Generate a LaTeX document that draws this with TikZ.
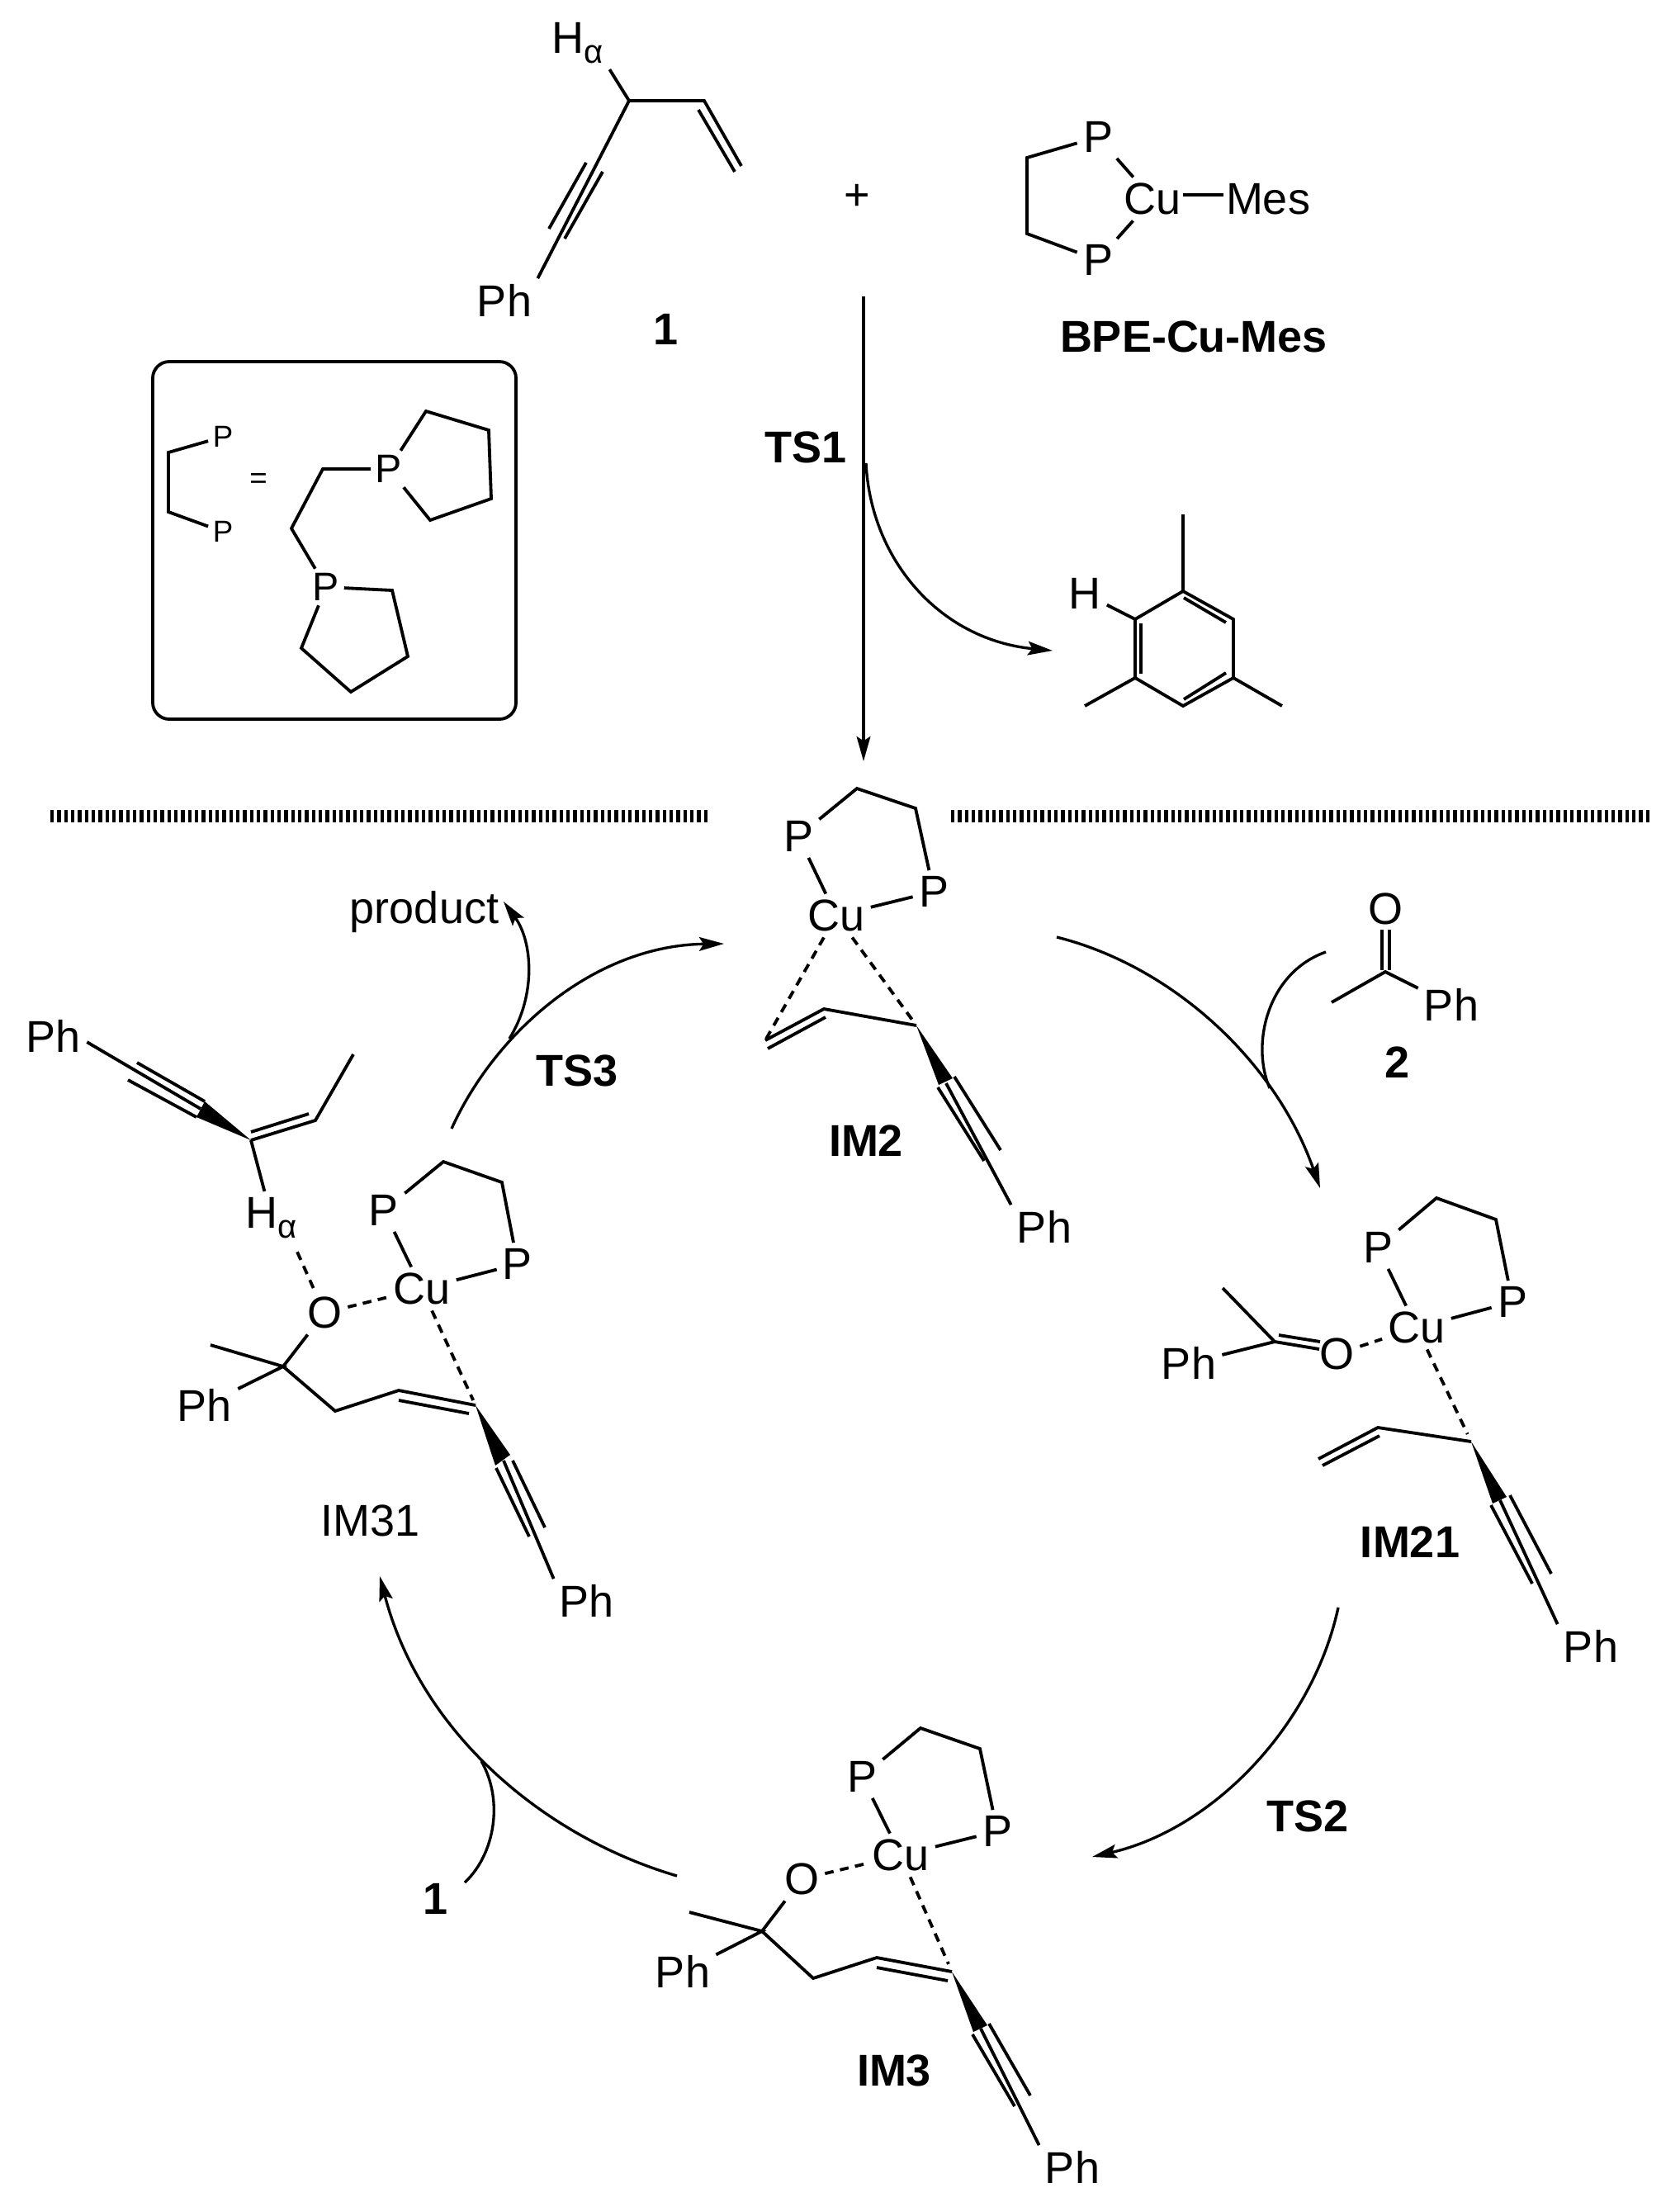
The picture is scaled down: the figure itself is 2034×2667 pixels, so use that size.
\documentclass[tikz,border=0pt]{standalone}
\usepackage{fontspec}
\setmainfont{Liberation Sans}
\usetikzlibrary{arrows.meta}
\newcommand{\halpha}{H\raisebox{-3.6pt}{\fontsize{12}{14}\selectfont α}}

\begin{document}
\begin{tikzpicture}[x=0.3pt, y=-0.3pt,
atom/.style={inner sep=2pt, font=\fontsize{16.2}{18}\selectfont},
title/.style={inner sep=1pt, font=\fontsize{16.2}{18}\selectfont\bfseries},
smallatom/.style={inner sep=1.5pt, font=\fontsize{11}{13}\selectfont},
midatom/.style={inner sep=1.5pt, font=\fontsize{14.5}{17}\selectfont},
bond/.style={line width=1.15pt},
dashbond/.style={line width=1.15pt, dash pattern=on 3.2pt off 2.4pt},
curved/.style={line width=1pt},
reaction/.style={line width=1pt, -{Stealth[length=9pt, width=5pt, inset=1.6pt]}},
divider/.style={line width=4.5pt, dash pattern=on 1.25pt off 1.25pt},
]
\useasboundingbox (0,0) rectangle (2034,2667);
%Nodes
\node[atom] (sm_h) at (700,52) {\halpha};
\node[atom] (sm_ph) at (611,364) {Ph};
\node[title] (sm_num) at (807,399) {1};
\node[atom] (plus) at (1038,239) {+};
\node[atom] (cat_p1) at (1330,166) {P};
\node[atom] (cat_p2) at (1330,315) {P};
\node[atom] (cat_cu) at (1396,241) {Cu};
\node[atom] (cat_mes) at (1536,241) {Mes};
\node[title] (cat_name) at (1446,408) {BPE-Cu-Mes};
\node[smallatom] (key_p1) at (270,529) {P};
\node[smallatom] (key_p2) at (270,644) {P};
\node[smallatom] (key_eq) at (313,583) {=};
\node[midatom] (key_p3) at (471,568) {P};
\node[midatom] (key_p4) at (395,711) {P};
\node[title] (ts1) at (976,542) {TS1};
\node[atom] (mes_h) at (1314,719) {H};
\node[atom] (im2_p1) at (967,1013) {P};
\node[atom] (im2_p2) at (1131,1080) {P};
\node[atom] (im2_cu) at (1013,1109) {Cu};
\node[atom] (im2_ph) at (1265,1486) {Ph};
\node[title] (im2_name) at (1049,1382) {IM2};
\node[atom] (ket_o) at (1678,1101) {O};
\node[atom] (ket_ph) at (1758,1217) {Ph};
\node[title] (ket_num) at (1692,1287) {2};
\node[atom] (im21_p1) at (1669,1511) {P};
\node[atom] (im21_p2) at (1832,1577) {P};
\node[atom] (im21_cu) at (1716,1608) {Cu};
\node[atom] (im21_o) at (1619,1640) {O};
\node[atom] (im21_ph1) at (1440,1651) {Ph};
\node[atom] (im21_ph2) at (1927,1994) {Ph};
\node[title] (im21_name) at (1708,1868) {IM21};
\node[title] (ts2) at (1584,2200) {TS2};
\node[atom] (im3_p1) at (1044,2152) {P};
\node[atom] (im3_p2) at (1208,2218) {P};
\node[atom] (im3_cu) at (1091,2247) {Cu};
\node[atom] (im3_o) at (971,2276) {O};
\node[atom] (im3_ph1) at (827,2388) {Ph};
\node[atom] (im3_ph2) at (1299,2625) {Ph};
\node[title] (im3_name) at (1083,2508) {IM3};
\node[title] (add_num) at (528,2300) {1};
\node[atom] (im31_p1) at (465,1466) {P};
\node[atom] (im31_p2) at (627,1531) {P};
\node[atom] (im31_cu) at (511,1561) {Cu};
\node[atom] (im31_o) at (393,1590) {O};
\node[atom] (im31_h) at (329,1475) {\halpha};
\node[atom] (im31_ph1) at (65,1255) {Ph};
\node[atom] (im31_ph2) at (248,1702) {Ph};
\node[atom] (im31_ph3) at (711,1939) {Ph};
\node[atom] (im31_name) at (449,1842) {IM31};
\node[title] (ts3) at (699,1297) {TS3};
\node[atom] (product) at (514,1105) {product};
%Points
\coordinate (sm_c1) at (762,122); \coordinate (sm_c2) at (853,122); \coordinate (sm_c3) at (898,201);
\coordinate (sm_d1) at (846,133); \coordinate (sm_d2) at (890,208);
\coordinate (sm_t1) at (710,197); \coordinate (sm_t2) at (665,277);
\coordinate (sm_t3) at (730,208); \coordinate (sm_t4) at (684,289);
\coordinate (key_a) at (185,438); \coordinate (key_b) at (625,871);
\coordinate (key_c1) at (204,548); \coordinate (key_c2) at (204,620);
\coordinate (key_c3) at (391,568); \coordinate (key_c4) at (353,640);
\coordinate (key_r1) at (516,498); \coordinate (key_r2) at (592,521); \coordinate (key_r3) at (595,604); \coordinate (key_r4) at (521,630);
\coordinate (key_s1) at (475,715); \coordinate (key_s2) at (494,795); \coordinate (key_s3) at (425,838); \coordinate (key_s4) at (365,785);
\coordinate (cat_c1) at (1244,191); \coordinate (cat_c2) at (1244,283);
\coordinate (start) at (1046,359); \coordinate (end) at (1046,922);
\coordinate (loss_a) at (1049,561); \coordinate (loss_b) at (1275,788);
\coordinate (mes_a) at (1375,750); \coordinate (mes_b) at (1433,716); \coordinate (mes_c) at (1494,750);
\coordinate (mes_d) at (1494,821); \coordinate (mes_e) at (1433,855); \coordinate (mes_f) at (1375,821);
\coordinate (mes_g) at (1434,724); \coordinate (mes_i) at (1485,754);
\coordinate (mes_j) at (1382,755); \coordinate (mes_k) at (1382,816);
\coordinate (mes_l) at (1434,847); \coordinate (mes_m) at (1485,815);
\coordinate (mes_n) at (1433,623); \coordinate (mes_o) at (1314,855); \coordinate (mes_q) at (1553,855);
\coordinate (div_a) at (61,988); \coordinate (div_b) at (859,988); \coordinate (div_c) at (1152,988); \coordinate (div_d) at (2000,988);
\coordinate (im2_c1) at (1038,955); \coordinate (im2_c2) at (1109,979);
\coordinate (im2_v1) at (927,1260); \coordinate (im2_v2) at (998,1222); \coordinate (im2_v3) at (1110,1242);
\coordinate (im2_d1) at (930,1270); \coordinate (im2_d2) at (1000,1232);
\coordinate (im2_w1) at (1137,1314); \coordinate (im2_w2) at (1154,1306); \coordinate (im2_w3) at (1146,1312);
\coordinate (im2_t1) at (1136,1317); \coordinate (im2_t2) at (1192,1406);
\coordinate (im2_t3) at (1156,1304); \coordinate (im2_t4) at (1212,1393);
\coordinate (ket_c) at (1678,1177); \coordinate (ket_me) at (1613,1214);
\coordinate (ket_d1) at (1674,1126); \coordinate (ket_d2) at (1674,1175); \coordinate (ket_d3) at (1683,1126); \coordinate (ket_d4) at (1683,1175);
\coordinate (im21_c1) at (1740,1451); \coordinate (im21_c2) at (1812,1477);
\coordinate (im21_k) at (1544,1625); \coordinate (im21_me) at (1481,1560);
\coordinate (im21_e1) at (1549,1617); \coordinate (im21_e2) at (1599,1625); \coordinate (im21_e3) at (1598,1634);
\coordinate (im21_v1) at (1597,1767); \coordinate (im21_v2) at (1669,1729); \coordinate (im21_v3) at (1782,1746);
\coordinate (im21_d1) at (1602,1775); \coordinate (im21_d2) at (1671,1739);
\coordinate (im21_w1) at (1808,1821); \coordinate (im21_w2) at (1825,1813); \coordinate (im21_w3) at (1817,1817);
\coordinate (im21_t1) at (1806,1823); \coordinate (im21_t2) at (1856,1918);
\coordinate (im21_t3) at (1829,1811); \coordinate (im21_t4) at (1879,1906);
\coordinate (im3_c1) at (1115,2093); \coordinate (im3_c2) at (1187,2118);
\coordinate (im3_k) at (923,2339); \coordinate (im3_me) at (835,2316);
\coordinate (im3_v1) at (985,2396); \coordinate (im3_v2) at (1062,2371); \coordinate (im3_v3) at (1153,2388);
\coordinate (im3_d1) at (1062,2383); \coordinate (im3_d2) at (1148,2399);
\coordinate (im3_w1) at (1179,2461); \coordinate (im3_w2) at (1196,2453); \coordinate (im3_w3) at (1188,2457);
\coordinate (im3_t1) at (1178,2464); \coordinate (im3_t2) at (1229,2551);
\coordinate (im3_t3) at (1198,2451); \coordinate (im3_t4) at (1248,2538);
\coordinate (im31_c1) at (537,1407); \coordinate (im31_c2) at (608,1432);
\coordinate (im31_k) at (343,1655); \coordinate (im31_me) at (255,1629);
\coordinate (im31_v1) at (406,1709); \coordinate (im31_v2) at (483,1684); \coordinate (im31_v3) at (576,1702);
\coordinate (im31_d1) at (483,1696); \coordinate (im31_d2) at (568,1712);
\coordinate (im31_w1) at (600,1775); \coordinate (im31_w2) at (618,1762); \coordinate (im31_w3) at (610,1769);
\coordinate (im31_t1) at (601,1778); \coordinate (im31_t2) at (641,1861);
\coordinate (im31_t3) at (621,1769); \coordinate (im31_t4) at (660,1850);
\coordinate (pro_a) at (304,1381); \coordinate (pro_b) at (382,1357); \coordinate (pro_c) at (428,1277);
\coordinate (pro_d1) at (304,1371); \coordinate (pro_d2) at (374,1349);
\coordinate (pro_w1) at (248,1334); \coordinate (pro_w2) at (238,1353); \coordinate (pro_w3) at (243,1343);
\coordinate (pro_t1) at (166,1287); \coordinate (pro_t2) at (155,1308);
\coordinate (cyc_a) at (1280,1135); \coordinate (cyc_b) at (1599,1439);
\coordinate (cyc_c) at (1621,1947); \coordinate (cyc_d) at (1323,2249);
\coordinate (cyc_e) at (820,2272); \coordinate (cyc_f) at (460,1909);
\coordinate (cyc_g) at (547,1367); \coordinate (cyc_h) at (877,1143);
\coordinate (ket_a) at (1606,1153); \coordinate (ket_b) at (1538,1318);
\coordinate (add_a) at (563,2280); \coordinate (add_b) at (583,2133);
\coordinate (out_a) at (617,1258); \coordinate (out_b) at (610,1092);
%Lines
\draw[bond] (sm_h.south east) -- (sm_c1) -- (sm_c2) -- (sm_c3);
\draw[bond] (sm_d1) -- (sm_d2);
\draw[bond] (sm_c1) -- (sm_ph.north east);
\draw[bond] (sm_t1) -- (sm_t2);
\draw[bond] (sm_t3) -- (sm_t4);
\draw[bond, rounded corners=6pt] (key_a) rectangle (key_b);
\draw[bond] (key_p1) -- (key_c1) -- (key_c2) -- (key_p2);
\draw[bond] (key_p3) -- (key_c3) -- (key_c4) -- (key_p4);
\draw[bond] (key_p3) -- (key_r1) -- (key_r2) -- (key_r3) -- (key_r4) -- (key_p3);
\draw[bond] (key_p4) -- (key_s1) -- (key_s2) -- (key_s3) -- (key_s4) -- (key_p4);
\draw[bond] (cat_p1) -- (cat_c1) -- (cat_c2) -- (cat_p2);
\draw[bond] (cat_p1) -- (cat_cu);
\draw[bond] (cat_p2) -- (cat_cu);
\draw[bond, shorten <=-1.5pt, shorten >=-1.2pt] (cat_cu.east |- 0,236) -- (cat_mes.west |- 0,236);
\draw[reaction] (start) -- (end);
\draw[reaction] (loss_a) .. controls (1055,680) and (1140,775) .. (loss_b);
\draw[bond] (mes_h) -- (mes_a);
\draw[bond] (mes_a) -- (mes_b) -- (mes_c) -- (mes_d) -- (mes_e) -- (mes_f) -- cycle;
\draw[bond] (mes_g) -- (mes_i);
\draw[bond] (mes_j) -- (mes_k);
\draw[bond] (mes_l) -- (mes_m);
\draw[bond] (mes_b) -- (mes_n);
\draw[bond] (mes_f) -- (mes_o);
\draw[bond] (mes_d) -- (mes_q);
\draw[divider] (div_a) -- (div_b);
\draw[divider] (div_c) -- (div_d);
% IM2
\draw[bond] (im2_p1) -- (im2_c1) -- (im2_c2) -- (im2_p2);
\draw[bond] (im2_p1) -- (im2_cu);
\draw[bond] (im2_cu) -- (im2_p2);
\draw[dashbond] (im2_cu) -- (im2_v1);
\draw[dashbond, shorten >=2pt] (im2_cu) -- (im2_v3);
\draw[bond] (im2_v1) -- (im2_v2) -- (im2_v3);
\draw[bond] (im2_d1) -- (im2_d2);
\fill (im2_v3) -- (im2_w1) -- (im2_w2) -- cycle;
\draw[bond] (im2_w3) -- (im2_ph.north west);
\draw[bond] (im2_t1) -- (im2_t2);
\draw[bond] (im2_t3) -- (im2_t4);
% ketone
\draw[bond] (ket_me) -- (ket_c) -- (ket_ph);
\draw[bond] (ket_d1) -- (ket_d2);
\draw[bond] (ket_d3) -- (ket_d4);
% IM21
\draw[bond] (im21_p1) -- (im21_c1) -- (im21_c2) -- (im21_p2);
\draw[bond] (im21_p1) -- (im21_cu);
\draw[bond] (im21_cu) -- (im21_p2);
\draw[dashbond] (im21_o) -- (im21_cu);
\draw[bond] (im21_me) -- (im21_k) -- (im21_ph1);
\draw[bond] (im21_k) -- (im21_e3);
\draw[bond] (im21_e1) -- (im21_e2);
\draw[dashbond, shorten >=3pt] (im21_cu) -- (im21_v3);
\draw[bond] (im21_v1) -- (im21_v2) -- (im21_v3);
\draw[bond] (im21_d1) -- (im21_d2);
\fill (im21_v3) -- (im21_w1) -- (im21_w2) -- cycle;
\draw[bond] (im21_w3) -- (im21_ph2.north west);
\draw[bond] (im21_t1) -- (im21_t2);
\draw[bond] (im21_t3) -- (im21_t4);
% IM3
\draw[bond] (im3_p1) -- (im3_c1) -- (im3_c2) -- (im3_p2);
\draw[bond] (im3_p1) -- (im3_cu);
\draw[bond] (im3_cu) -- (im3_p2);
\draw[dashbond] (im3_o) -- (im3_cu);
\draw[bond] (im3_o) -- (im3_k);
\draw[bond] (im3_me) -- (im3_k) -- (im3_ph1);
\draw[bond] (im3_k) -- (im3_v1) -- (im3_v2) -- (im3_v3);
\draw[bond] (im3_d1) -- (im3_d2);
\draw[dashbond, shorten >=3pt] (im3_cu) -- (im3_v3);
\fill (im3_v3) -- (im3_w1) -- (im3_w2) -- cycle;
\draw[bond] (im3_w3) -- (im3_ph2.north west);
\draw[bond] (im3_t1) -- (im3_t2);
\draw[bond] (im3_t3) -- (im3_t4);
% IM31
\draw[bond] (im31_p1) -- (im31_c1) -- (im31_c2) -- (im31_p2);
\draw[bond] (im31_p1) -- (im31_cu);
\draw[bond] (im31_cu) -- (im31_p2);
\draw[dashbond] (im31_o) -- (im31_cu);
\draw[bond] (im31_o) -- (im31_k);
\draw[bond] (im31_me) -- (im31_k) -- (im31_ph2);
\draw[bond] (im31_k) -- (im31_v1) -- (im31_v2) -- (im31_v3);
\draw[bond] (im31_d1) -- (im31_d2);
\draw[dashbond, shorten >=2pt] (im31_cu) -- (im31_v3);
\fill (im31_v3) -- (im31_w1) -- (im31_w2) -- cycle;
\draw[bond] (im31_w3) -- (im31_ph3.north west);
\draw[bond] (im31_t1) -- (im31_t2);
\draw[bond] (im31_t3) -- (im31_t4);
% eliminated enyne
\draw[bond] (im31_ph1.-10) -- (pro_w3);
\draw[bond] (pro_t1) -- (pro_w1);
\draw[bond] (pro_t2) -- (pro_w2);
\fill (pro_a) -- (pro_w1) -- (pro_w2) -- cycle;
\draw[bond] (pro_a) -- (pro_b) -- (pro_c);
\draw[bond] (pro_d1) -- (pro_d2);
\draw[bond] (pro_a) -- (im31_h.105);
\draw[dashbond, shorten <=3pt] (im31_h.-50) -- (im31_o);
% cycle
\draw[reaction] (cyc_a) .. controls (1420,1170) and (1545,1285) .. (cyc_b);
\draw[curved] (ket_a) .. controls (1535,1178) and (1515,1265) .. (ket_b);
\draw[reaction] (cyc_c) .. controls (1590,2090) and (1470,2215) .. (cyc_d);
\draw[reaction] (cyc_e) .. controls (660,2225) and (510,2100) .. (cyc_f);
\draw[curved] (add_a) .. controls (600,2245) and (610,2180) .. (add_b);
\draw[reaction] (cyc_g) .. controls (600,1250) and (720,1145) .. (cyc_h);
\draw[reaction] (out_a) .. controls (650,1205) and (645,1140) .. (out_b);
\end{tikzpicture}
\end{document}
